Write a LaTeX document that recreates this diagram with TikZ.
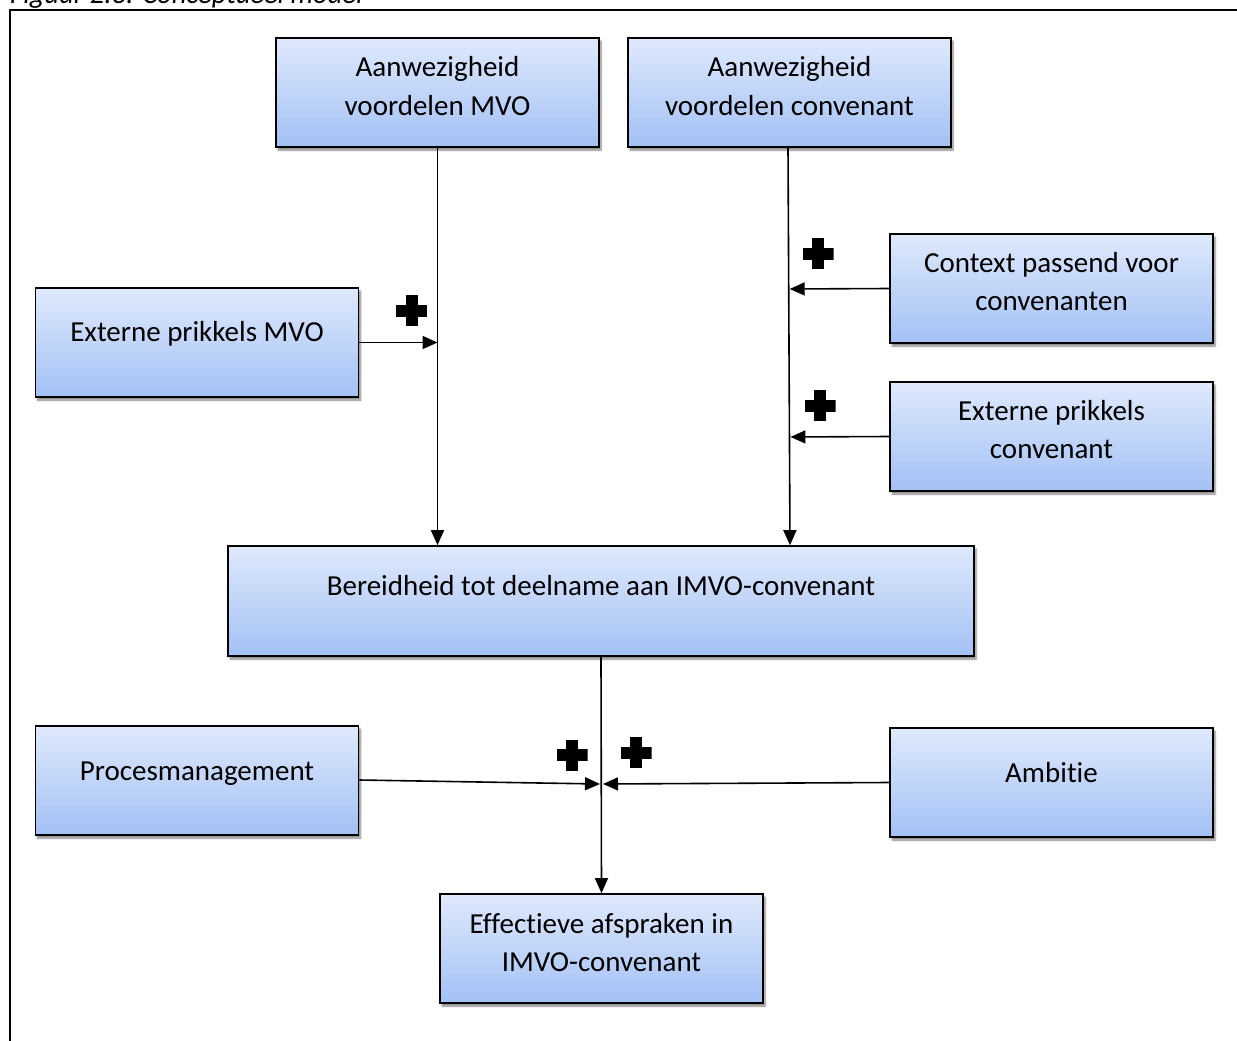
\documentclass[tikz,border=0pt]{standalone}
\usepackage{fontspec}
\setmainfont{Carlito}[Ligatures={NoCommon}]
\usetikzlibrary{arrows.meta,shadows.blur,calc}
\definecolor{boxtop}{RGB}{223,233,252}
\definecolor{boxbot}{RGB}{163,193,245}
\tikzset{
  box/.style={draw=black, line width=1.6pt, top color=boxtop, bottom color=boxbot,
    minimum width=323pt, minimum height=109pt, inner sep=0pt,
    blur shadow={shadow xshift=2pt, shadow yshift=-3pt, shadow blur steps=6, shadow opacity=50}},
  lbl/.style={font=\fontsize{29}{38.5}\selectfont, align=center, anchor=base, inner sep=0pt},
  link/.style={line width=1.6pt, -{Triangle[length=15pt,width=13pt]}},
  frameline/.style={line width=2pt},
  plusmark/.style={minimum size=31pt, inner sep=0pt,
    path picture={
      \fill[black] ([xshift=-6pt]path picture bounding box.north) rectangle ([xshift=6pt]path picture bounding box.south);
      \fill[black] ([yshift=-6pt]path picture bounding box.west) rectangle ([yshift=6pt]path picture bounding box.east);
    }},
}
\begin{document}
\begin{tikzpicture}[x=1pt,y=-1pt]
\useasboundingbox (0,0) rectangle (1237,1041);

% caption and frame
\node[anchor=base west, inner sep=0pt, font=\fontsize{28.5}{30}\selectfont\itshape] (cap) at (10,4) {Figuur 2.3: Conceptueel model};
\draw[frameline] (10,1050) -- (10,10) -- (1245,10);

% boxes
\node[box] (b1) at (437.5,92.5) {};
\node[box] (b2) at (789.5,92.5) {};
\node[box] (ctx) at (1051.5,288.5) {};
\node[box] (emvo) at (197,342.5) {};
\node[box] (econv) at (1051.5,436.5) {};
\node[box, minimum width=746pt, minimum height=110pt] (ber) at (601,601) {};
\node[box] (proc) at (197,780.5) {};
\node[box] (amb) at (1051.5,782.5) {};
\node[box] (eff) at (601.5,948.5) {};

% labels
\node[lbl] (t1a) at (437.5,77) {Aanwezigheid};
\node[lbl] (t1b) at (437.5,115) {voordelen MVO};
\node[lbl] (t2a) at (789.5,77) {Aanwezigheid};
\node[lbl] (t2b) at (789.5,115) {voordelen convenant};
\node[lbl] (t3a) at (1051.5,272.5) {Context passend voor};
\node[lbl] (t3b) at (1051.5,310.5) {convenanten};
\node[lbl] (t4) at (197,341.5) {Externe prikkels MVO};
\node[lbl] (t5a) at (1051.5,420.5) {Externe prikkels};
\node[lbl] (t5b) at (1051.5,458.5) {convenant};
\node[lbl] (t6) at (601,595.5) {Bereidheid tot deelname aan IMVO-convenant};
\node[lbl] (t7) at (197,780.5) {Procesmanagement};
\node[lbl] (t8) at (1051.5,782.5) {Ambitie};
\node[lbl] (t9a) at (601.5,933.5) {Effectieve afspraken in};
\node[lbl] (t9b) at (601.5,971.5) {IMVO-convenant};

% connectors
\coordinate (s2) at ($(b2.south)+(-1.5,0)$);
\coordinate (e2) at ($(ber.north)+(189,0)$);
\draw[link] (b1.south) -- (b1.south |- ber.north);
\draw[link] (s2) -- (e2);
\draw[link] (emvo.east) -- (b1.south |- emvo.east);
\coordinate (kc) at ($(s2)!(ctx.west)!(e2)$);
\coordinate (ke) at ($(s2)!(econv.west)!(e2)$);
\draw[link, shorten >=1pt] (ctx.west) -- (kc);
\draw[link, shorten >=1pt] (econv.west) -- (ke);
\draw[link] (ber.south) -- (eff.north);
\coordinate (jp) at (600,784);
\coordinate (ja) at (603,784);
\draw[link] ([yshift=0.5pt]proc.east) -- (jp);
\draw[link] (amb.west) -- (ja);

% plus signs
\node[plusmark] (p1) at (411.5,310.5) {};
\node[plusmark] (p2) at (818,253.5) {};
\node[plusmark] (p3) at (820,405.5) {};
\node[plusmark] (p4) at (572,755) {};
\node[plusmark] (p5) at (636,752.5) {};
\end{tikzpicture}
\end{document}
